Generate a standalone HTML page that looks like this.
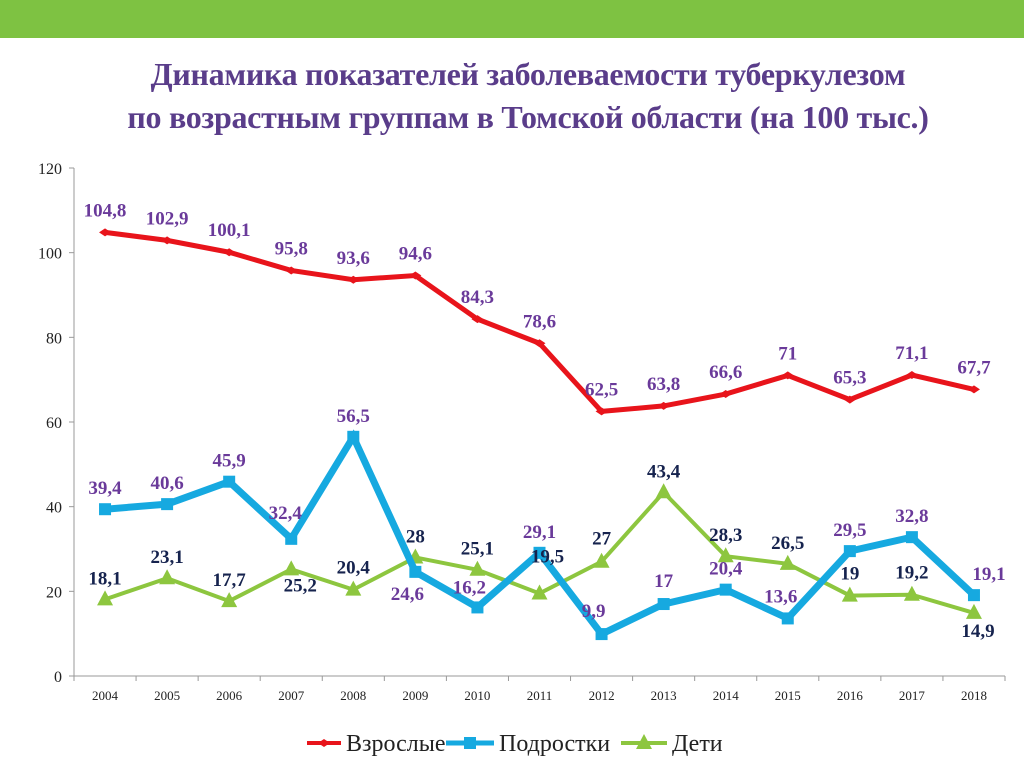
<!DOCTYPE html>
<html><head><meta charset="utf-8"><style>
body{margin:0;width:1024px;height:767px;background:#fff;overflow:hidden;font-family:"Liberation Serif",serif}
#bar{position:absolute;left:0;top:0;width:1024px;height:38px;background:#7ec242}
#title{position:absolute;top:53px;left:0;width:1056px;text-align:center;color:#5a3d8a;font-weight:bold;font-size:32px;line-height:43px;letter-spacing:-0.3px}
svg{position:absolute;left:0;top:0}
</style></head><body>
<div id="bar"></div>
<div id="title">Динамика показателей заболеваемости туберкулезом<br>по возрастным группам в Томской области (на 100 тыс.)</div>
<svg id="chart" width="1024" height="767"></svg>
<script>
const years=["2004","2005","2006","2007","2008","2009","2010","2011","2012","2013","2014","2015","2016","2017","2018"];
const adults=[104.8,102.9,100.1,95.8,93.6,94.6,84.3,78.6,62.5,63.8,66.6,71,65.3,71.1,67.7];
const teens=[39.4,40.6,45.9,32.4,56.5,24.6,16.2,29.1,9.9,17,20.4,13.6,29.5,32.8,19.1];
const kids=[18.1,23.1,17.7,25.2,20.4,28,25.1,19.5,27,43.4,28.3,26.5,19,19.2,14.9];
const yTicks=[0,20,40,60,80,100,120];
const seriesNames=["Взрослые","Подростки","Дети"];
// label offsets (layout only)
const adultOff=[[0,-16],[0,-16],[0,-16],[0,-16],[0,-16],[0,-16],[0,-16],[0,-16],[0,-16],[0,-16],[0,-16],[0,-16],[0,-16],[0,-16],[0,-16]];
const teenOff=[[0,-15],[0,-15],[0,-15],[-6,-20],[0,-15],[-8,28],[-8,-14],[0,-15],[-8,-17],[0,-17],[0,-15],[-7,-16],[0,-15],[0,-15],[15,-15]];
const kidOff=[[0,-15],[0,-15],[0,-15],[9,22],[0,-16],[0,-15],[0,-15],[8,-31],[0,-17],[0,-15],[0,-15],[0,-15],[0,-16],[0,-16],[4,24]];
const S="http://www.w3.org/2000/svg",svg=document.getElementById('chart');
const X0=74,X1=1005,Y0=676,Y1=168,step=(X1-X0)/years.length;
const xs=i=>X0+step*(i+0.5), ys=v=>Y0-(v-0)/(120-0)*(Y0-Y1);
function el(t,a,p){const e=document.createElementNS(S,t);for(const k in a)e.setAttribute(k,a[k]);(p||svg).appendChild(e);return e;}
const ax=el('line',{x1:X0,y1:Y1,x2:X0,y2:Y0,stroke:'#999','stroke-width':1});


const bx=el('line',{x1:X0,y1:Y0,x2:X1,y2:Y0,stroke:'#999','stroke-width':1});


yTicks.forEach(v=>{
 el('line',{x1:X0-5,y1:ys(v),x2:X0,y2:ys(v),stroke:'#999'});
 const t=el('text',{x:X0-12,y:ys(v)+6,'text-anchor':'end','font-size':16,fill:'#222','font-family':'Liberation Serif'});
 t.textContent=v;
 
 
});
for(let i=0;i<=years.length;i++)el('line',{x1:X0+step*i,y1:Y0,x2:X0+step*i,y2:Y0+5,stroke:'#999'});
years.forEach((y,i)=>{
 const t=el('text',{x:xs(i),y:Y0+24,'text-anchor':'middle','font-size':13,fill:'#222','font-family':'Liberation Serif'});
 t.textContent=y;
 
 
});
function marker(type,x,y,c,g){
 if(type==='d')return el('polygon',{points:`${x-6},${y} ${x},${y-4} ${x+6},${y} ${x},${y+4}`,fill:c},g);
 if(type==='s')return el('rect',{x:x-6,y:y-6,width:12,height:12,fill:c},g);
 return el('polygon',{points:`${x},${y-9} ${x+8},${y+6} ${x-8},${y+6}`,fill:c},g);
}
function series(data,color,w,type,name){
 const g=el('g',{});
 
 
 const p=el('polyline',{points:data.map((v,i)=>xs(i)+','+ys(v)).join(' '),fill:'none',stroke:color,'stroke-width':w,'stroke-linejoin':'miter'},g);
 
 
 data.forEach((v,i)=>{
  const m=marker(type,xs(i),ys(v),color,g);
  
  
 });
 return g;
}
function labels(data,off,lc,name){
 data.forEach((v,i)=>{
  const t=el('text',{x:xs(i)+off[i][0],y:ys(v)+off[i][1],'text-anchor':'middle','font-size':19,'font-weight':'bold',fill:lc,'font-family':'Liberation Serif'});
  t.textContent=String(v).replace('.',',');
  
  
 });
}
series(kids,'#8dc63f',4,'t','children');
series(teens,'#16a9e0',7,'s','teens');
series(adults,'#e8141b',5,'d','adults');
labels(adults,adultOff,'#6a3a9a','adults');
labels(teens,teenOff,'#6a3a9a','teens');
labels(kids,kidOff,'#16234e','children');
// legend
const leg=[[307,'#e8141b','d',34],[446,'#16a9e0','s',48],[621,'#8dc63f','t',46]];
leg.forEach((l,i)=>{
 const g=el('g',{});
 
 
 el('line',{x1:l[0],y1:743,x2:l[0]+l[3],y2:743,stroke:l[1],'stroke-width':i==1?5:4},g);
 marker(l[2],l[0]+l[3]/2,743,l[1],g);
 const t=el('text',{x:l[0]+l[3]+5,y:751,'font-size':24,fill:'#222','font-family':'Liberation Serif'},g);
 t.textContent=seriesNames[i];
});
</script>
</body></html>
